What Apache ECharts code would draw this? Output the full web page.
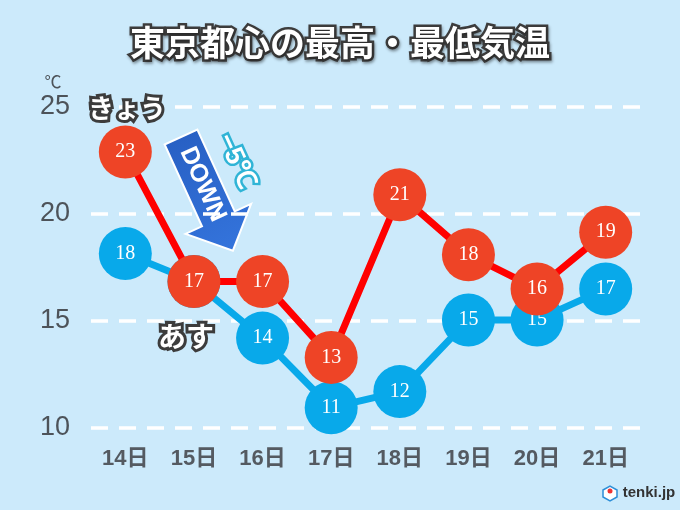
<!DOCTYPE html>
<html><head><meta charset="utf-8">
<script src="https://cdn.jsdelivr.net/npm/echarts@6/dist/echarts.min.js"></script>
<style>html,body{margin:0;padding:0;background:#cceafb;}#c{width:680px;height:510px;}</style>
</head><body><div id="c"></div>
<script>
const days = ['14日','15日','16日','17日','18日','19日','20日','21日'];
const maxLabels = [23,17,17,13,21,18,16,19];
const maxPos = [22.9,16.85,16.85,13.3,20.9,18.1,16.5,19.15];
const minLabels = [18,17,14,11,12,15,15,17];
const minPos = [18.15,16.85,14.2,10.95,11.7,15.05,15.05,16.5];
const yTicks = [10,15,20,25];

const chart = echarts.init(document.getElementById('c'));
const jp = '"Noto Sans CJK JP"';
const outlineText = (text, x, y, size) => ({
  type:'text', x, y, z:50,
  style:{text, font:'bold '+size+'px '+jp, fill:'#fff', stroke:'#3c3c3c', lineWidth:6, strokeFirst:true,
    textAlign:'center', textVerticalAlign:'middle',
    shadowColor:'rgba(0,0,0,0.35)', shadowBlur:3, shadowOffsetX:1, shadowOffsetY:2}
});
chart.setOption({
  backgroundColor:'#cceafb',
  animation:false,
  title:{text:'東京都心の最高・最低気温', left:'center', top:20,
    textStyle:{fontFamily:jp, fontSize:35, fontWeight:'bold', color:'#fff',
      textBorderColor:'#3c3c3c', textBorderWidth:5,
      textShadowColor:'rgba(0,0,0,0.35)', textShadowBlur:3, textShadowOffsetX:1, textShadowOffsetY:2}},
  grid:{left:91, right:40, top:107, bottom:82},
  xAxis:{type:'category', data:days, boundaryGap:true,
    axisLine:{show:false}, axisTick:{show:false},
    axisLabel:{margin:20, fontSize:22, fontWeight:'bold', color:'#545a61', fontFamily:'"Liberation Sans", '+jp}},
  yAxis:{type:'value', min:10, max:25, interval:5,
    axisLine:{show:false}, axisTick:{show:false},
    axisLabel:{margin:21, fontSize:27, color:'#4d5359', fontFamily:'"Liberation Sans"',
      formatter:v => yTicks.includes(v) ? String(v) : ''},
    splitLine:{lineStyle:{color:'#ffffff', width:3.5, type:[17,11]}}},
  series:[
    {type:'line', name:'最低', data:minPos, z:2, symbol:'circle', symbolSize:53,
      lineStyle:{color:'#08a9ea', width:7}, itemStyle:{color:'#08a9ea'},
      label:{show:true, position:'inside', color:'#fff', fontSize:20, fontFamily:'"Liberation Serif"',
        formatter:p => String(minLabels[p.dataIndex])}},
    {type:'line', name:'最高', data:maxPos, z:3, symbol:'circle', symbolSize:53,
      lineStyle:{color:'#ff0000', width:7}, itemStyle:{color:'#ee4426'},
      label:{show:true, position:'inside', color:'#fff', fontSize:20, fontFamily:'"Liberation Serif"',
        formatter:p => String(maxLabels[p.dataIndex])}}
  ],
  graphic:[
    {type:'text', x:53, y:82, style:{text:'℃', font:'17px '+jp, fill:'#4d5359', textAlign:'center', textVerticalAlign:'middle'}},
    outlineText('きょう', 127, 108, 26),
    outlineText('あす', 186, 336, 28),
    {type:'group', x:181, y:137, rotation:0.428, z:40, children:[
      {type:'polygon', shape:{points:[[-18,0],[18,0],[18,90],[36,90],[0,125],[-36,90],[-18,90]]},
        style:{fill:{type:'linear', x:0, y:0, x2:0, y2:1, colorStops:[{offset:0,color:'#2860c4'},{offset:1,color:'#3474dc'}]},
          stroke:'#ffffff', lineWidth:2}},
      {type:'text', x:0, y:52, rotation:-Math.PI/2,
        style:{text:'DOWN', font:'bold 25px "Liberation Sans"', fill:'#fff', textAlign:'center', textVerticalAlign:'middle'}},
      {type:'text', x:40, y:45, rotation:-Math.PI/2,
        style:{text:'−5℃', font:'bold 27px "Liberation Sans"', fill:'#ffffff', stroke:'#2fb4d6', lineWidth:5, strokeFirst:true,
          textAlign:'center', textVerticalAlign:'middle', shadowColor:'rgba(120,220,245,0.9)', shadowBlur:5}}
    ]},
    {type:'group', x:610, y:493, children:[
      {type:'polygon', shape:{points:[[-7,-3],[0,-7],[7,-3],[7,4],[0,8],[-7,4]]}, style:{fill:'#fff', stroke:'#2d8fd8', lineWidth:1.5}},
      {type:'circle', shape:{cx:0, cy:-2, r:2.5}, style:{fill:'#e33'}}
    ]},
    {type:'text', x:649, y:493, style:{text:'tenki.jp', font:'bold 15px "Liberation Sans"', fill:'#333', textAlign:'center', textVerticalAlign:'middle'}}
  ]
});
</script></body></html>
